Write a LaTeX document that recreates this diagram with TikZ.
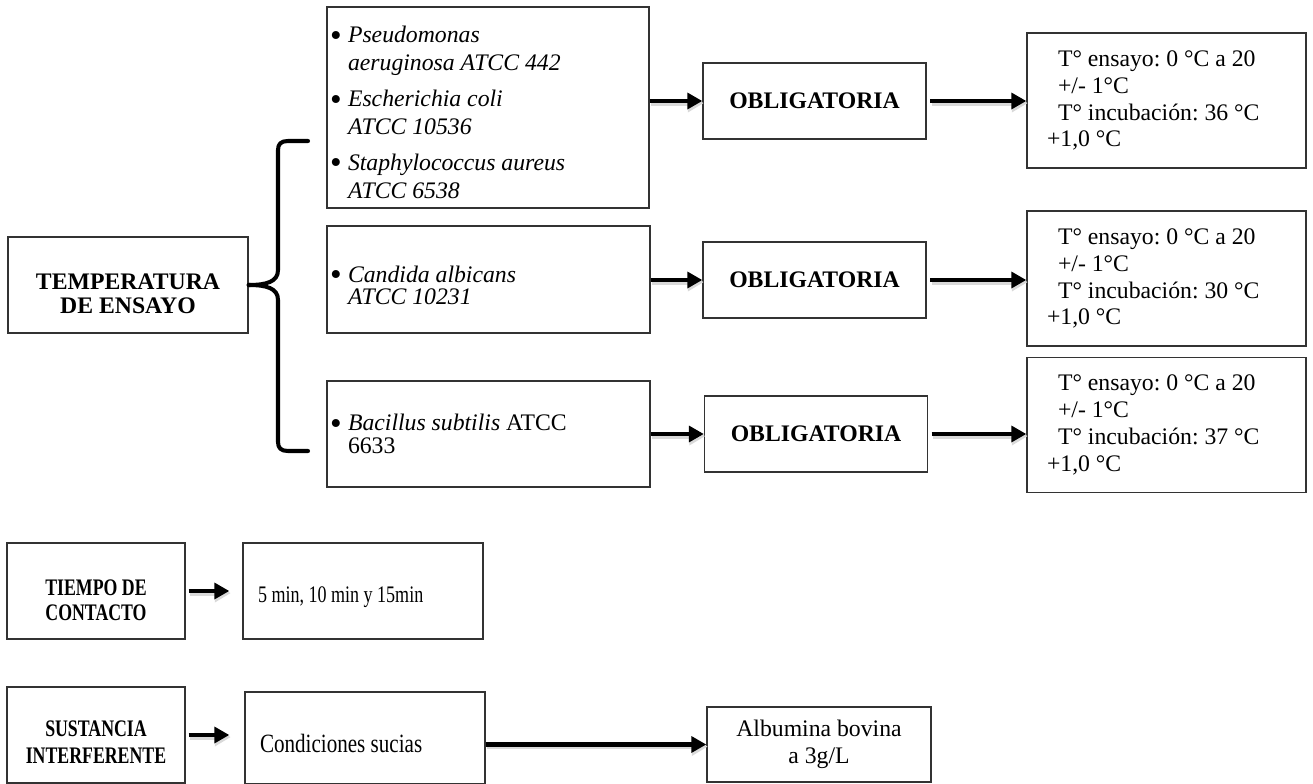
\documentclass[tikz,border=0pt]{standalone}
\usepackage{fontspec}
\setmainfont{Liberation Serif}
\newfontfamily\estrecha[FakeStretch=0.75]{Liberation Serif}
\newfontfamily\estrechab[FakeStretch=0.76]{Liberation Serif}
\newfontfamily\estrechac[FakeStretch=0.8]{Liberation Serif}
\usetikzlibrary{arrows.meta}
\newcommand{\bul}{\makebox[0.36cm][l]{\raisebox{-0.16em}{\scalebox{1.4}{\textbullet}}}}
\newcommand{\ind}{\hspace*{0.36cm}}
\newcommand{\alto}[1]{\rule{0pt}{#1}}
\tikzset{
  caja/.style={draw=black!80, line width=0.8pt, rectangle, inner sep=0pt,
    execute at begin node={\spaceskip=0pt\xspaceskip=0pt\frenchspacing}},
  flecha/.style={-{Triangle[length=8.5pt,width=9pt]}, line width=2.3pt},
  sombra/.style={preaction={draw=black!15, line width=3.2pt, -{Triangle[length=9pt,width=10pt]}, transform canvas={shift={(0.8pt,-1.2pt)}}}},
  llave/.style={line width=2.3pt, line join=round, line cap=round}
}
\begin{document}
\begin{tikzpicture}[x=0.02cm, y=-0.02cm, font=\fontsize{13.5}{15.3}\selectfont]
\useasboundingbox (0,0) rectangle (1313,784);
% Cajas de la izquierda
\node[caja, minimum width=4.8cm, minimum height=1.92cm, align=center, font=\fontsize{13.5}{13.6}\selectfont\bfseries] (temp) at (128,285) {\alto{19.4pt}TEMPERATURA\\DE ENSAYO};
\node[caja, minimum width=3.56cm, minimum height=1.92cm, align=center, font=\fontsize{13.5}{14.2}\selectfont\estrecha\bfseries] (tiempo) at (96,591) {\alto{19.4pt}TIEMPO DE\\CONTACTO};
\node[caja, minimum width=3.56cm, minimum height=1.92cm, align=center, font=\fontsize{13.5}{15.3}\selectfont\estrecha\bfseries] (sust) at (96,735) {\alto{17.2pt}SUSTANCIA\\INTERFERENTE};
% Microorganismos
\node[caja, minimum width=6.44cm, minimum height=4.02cm, inner xsep=0.06cm, text width=6.32cm, align=left, font=\fontsize{13.5}{15.9}\selectfont] (b1) at (488,107.5)
  {\bul\alto{14.8pt}\textit{Pseudomonas}\\ \ind\textit{aeruginosa ATCC 442}\\[4.5pt]
   \bul\textit{Escherichia coli}\\ \ind\textit{ATCC 10536}\\[4.5pt]
   \bul\textit{Staphylococcus aureus}\\ \ind\textit{ATCC 6538}};
\node[caja, minimum width=6.46cm, minimum height=2.14cm, inner xsep=0.06cm, text width=6.34cm, align=left, font=\fontsize{13.5}{13}\selectfont] (b2) at (488.5,279.5)
  {\bul\alto{16pt}\textit{Candida albicans}\\ \ind\textit{ATCC 10231}};
\node[caja, minimum width=6.46cm, minimum height=2.12cm, inner xsep=0.06cm, text width=6.34cm, align=left, font=\fontsize{13.5}{13}\selectfont] (b3) at (488.5,434)
  {\bul\textit{Bacillus subtilis} ATCC\\ \ind 6633};
% Obligatoria
\node[caja, minimum width=4.46cm, minimum height=1.52cm, font=\fontsize{13.5}{15.3}\selectfont\bfseries] (o1) at (814.5,101) {OBLIGATORIA};
\node[caja, minimum width=4.46cm, minimum height=1.52cm, font=\fontsize{13.5}{15.3}\selectfont\bfseries] (o2) at (814.5,280) {OBLIGATORIA};
\node[caja, minimum width=4.46cm, minimum height=1.52cm, font=\fontsize{13.5}{15.3}\selectfont\bfseries] (o3) at (816,434) {OBLIGATORIA};
% Temperaturas
\node[caja, minimum width=5.58cm, minimum height=2.7cm, inner xsep=0.4cm, text width=4.78cm, align=left] (r1) at (1166.5,100.5)
  {\hspace*{0.22cm}T° ensayo: 0 °C a 20\\ \hspace*{0.22cm}+/- 1°C\\ \hspace*{0.22cm}T° incubación: 36 °C\\ +1,0 °C};
\node[caja, minimum width=5.58cm, minimum height=2.7cm, inner xsep=0.4cm, text width=4.78cm, align=left] (r2) at (1166.5,278.5)
  {\hspace*{0.22cm}T° ensayo: 0 °C a 20\\ \hspace*{0.22cm}+/- 1°C\\ \hspace*{0.22cm}T° incubación: 30 °C\\ +1,0 °C};
\node[caja, minimum width=5.58cm, minimum height=2.7cm, inner xsep=0.4cm, text width=4.78cm, align=left] (r3) at (1166.5,425)
  {\hspace*{0.22cm}T° ensayo: 0 °C a 20\\ \hspace*{0.22cm}+/- 1°C\\ \hspace*{0.22cm}T° incubación: 37 °C\\ +1,0 °C};
% Tiempo y sustancia
\node[caja, minimum width=4.8cm, minimum height=1.92cm, inner xsep=0.3cm, text width=4.2cm, align=left, font=\fontsize{13.5}{15.3}\selectfont\estrechab] (cinco) at (363,591) {\alto{16pt}5 min, 10 min y 15min};
\node[caja, minimum width=4.8cm, minimum height=1.84cm, inner xsep=0.3cm, text width=4.2cm, align=left, font=\fontsize{15}{17}\selectfont\estrechac] (cond) at (365,738) {\alto{17pt}Condiciones sucias};
\node[caja, minimum width=4.48cm, minimum height=1.5cm, align=center] (alb) at (819,744.5) {Albumina bovina\\a 3g/L};
% Llave
\coordinate (llsup) at (308,141);
\coordinate (llinf) at (308,451);
\draw[llave] (temp.east) .. controls (266,285) and (278,282) .. (278,270) -- (278,150) .. controls (278,144) and (281,141) .. (288,141) -- (llsup);
\draw[llave] (temp.east) .. controls (266,285) and (278,288) .. (278,300) -- (278,442) .. controls (278,448) and (281,451) .. (288,451) -- (llinf);
% Flechas
\draw[flecha, sombra] (b1.east |- o1.west) -- (o1.west);
\draw[flecha, sombra] (b2.east |- o2.west) -- (o2.west);
\draw[flecha, sombra] (b3.east |- o3.west) -- (o3.west);
\draw[flecha, sombra, shorten <=2pt] (o1.east) -- (o1.east -| r1.west);
\draw[flecha, sombra, shorten <=2pt] (o2.east) -- (o2.east -| r2.west);
\draw[flecha, sombra, shorten <=2pt] (o3.east) -- (o3.east -| r3.west);
\draw[flecha, sombra, shorten <=0.06cm, shorten >=0.26cm] (tiempo.east) -- (cinco.west);
\draw[flecha, sombra, shorten <=0.06cm, shorten >=0.3cm] (sust.east) -- (sust.east -| cond.west);
\draw[flecha, sombra] (cond.east |- alb.west) -- (alb.west);
\end{tikzpicture}
\end{document}
